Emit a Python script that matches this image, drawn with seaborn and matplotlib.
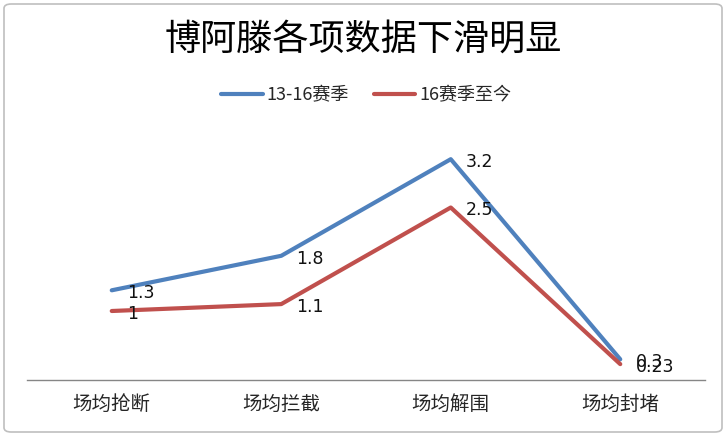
import matplotlib
matplotlib.use("Agg")
import matplotlib.pyplot as plt
import seaborn as sns
import pandas as pd
from matplotlib.patches import FancyBboxPatch

categories = ["场均抢断", "场均拦截", "场均解围", "场均封堵"]
series_names = ["13-16赛季", "16赛季至今"]
values_1316 = [1.3, 1.8, 3.2, 0.3]
values_16 = [1.0, 1.1, 2.5, 0.23]
label_1316 = ["1.3", "1.8", "3.2", "0.3"]
label_16 = ["1", "1.1", "2.5", "0.23"]
title = "博阿滕各项数据下滑明显"
colors = ["#4F81BD", "#C0504D"]

sns.set_theme(style="white")
plt.rcParams['font.family'] = ['Noto Sans CJK SC', 'DejaVu Sans']

df = pd.DataFrame({
    "category": categories * 2,
    "value": values_1316 + values_16,
    "series": [series_names[0]] * 4 + [series_names[1]] * 4,
})

fig = plt.figure(figsize=(7.26, 4.36), dpi=100)
ax = fig.add_axes([27 / 726, 1 - 380 / 436, 678 / 726, (380 - 138.5) / 436])

sns.lineplot(data=df, x="category", y="value", hue="series", palette=colors,
             linewidth=3, ax=ax, sort=False, legend=True)

ax.set_xlim(-0.5, 3.5)
ax.set_ylim(0, 3.5)
ax.set_xlabel("")
ax.set_ylabel("")
ax.set_yticks([])
for s in ["top", "right", "left"]:
    ax.spines[s].set_visible(False)
ax.spines["bottom"].set_color("#868686")
ax.spines["bottom"].set_linewidth(1)
ax.tick_params(axis="x", length=0, pad=10, labelsize=14, labelcolor="#262626")

for vals, labs in [(values_1316, label_1316), (values_16, label_16)]:
    for i, (v, t) in enumerate(zip(vals, labs)):
        ax.annotate(t, (i, v), xytext=(11, -2), textcoords="offset points",
                    ha="left", va="center", fontsize=12.5, color="#111111",
                    family=['DejaVu Sans'])

leg = ax.legend(loc="center", ncol=2, frameon=False, fontsize=13,
                handlelength=2.3, columnspacing=1.4, handletextpad=0.2)
leg.set_bbox_to_anchor(((366 - 27) / 678, 1 + (138.5 - 95) / 241.5), transform=ax.transAxes)

fig.text(0.5, 1 - 40 / 436, title, ha="center", va="center", fontsize=26, color="#000000")

border = FancyBboxPatch((4 / 726, 4 / 436), 718 / 726, 428 / 436,
                        boxstyle="round,pad=0,rounding_size=0.01",
                        transform=fig.transFigure, fill=False,
                        edgecolor="#BFBFBF", linewidth=1.2)
fig.patches.append(border)

fig.savefig("out.png", dpi=100)
